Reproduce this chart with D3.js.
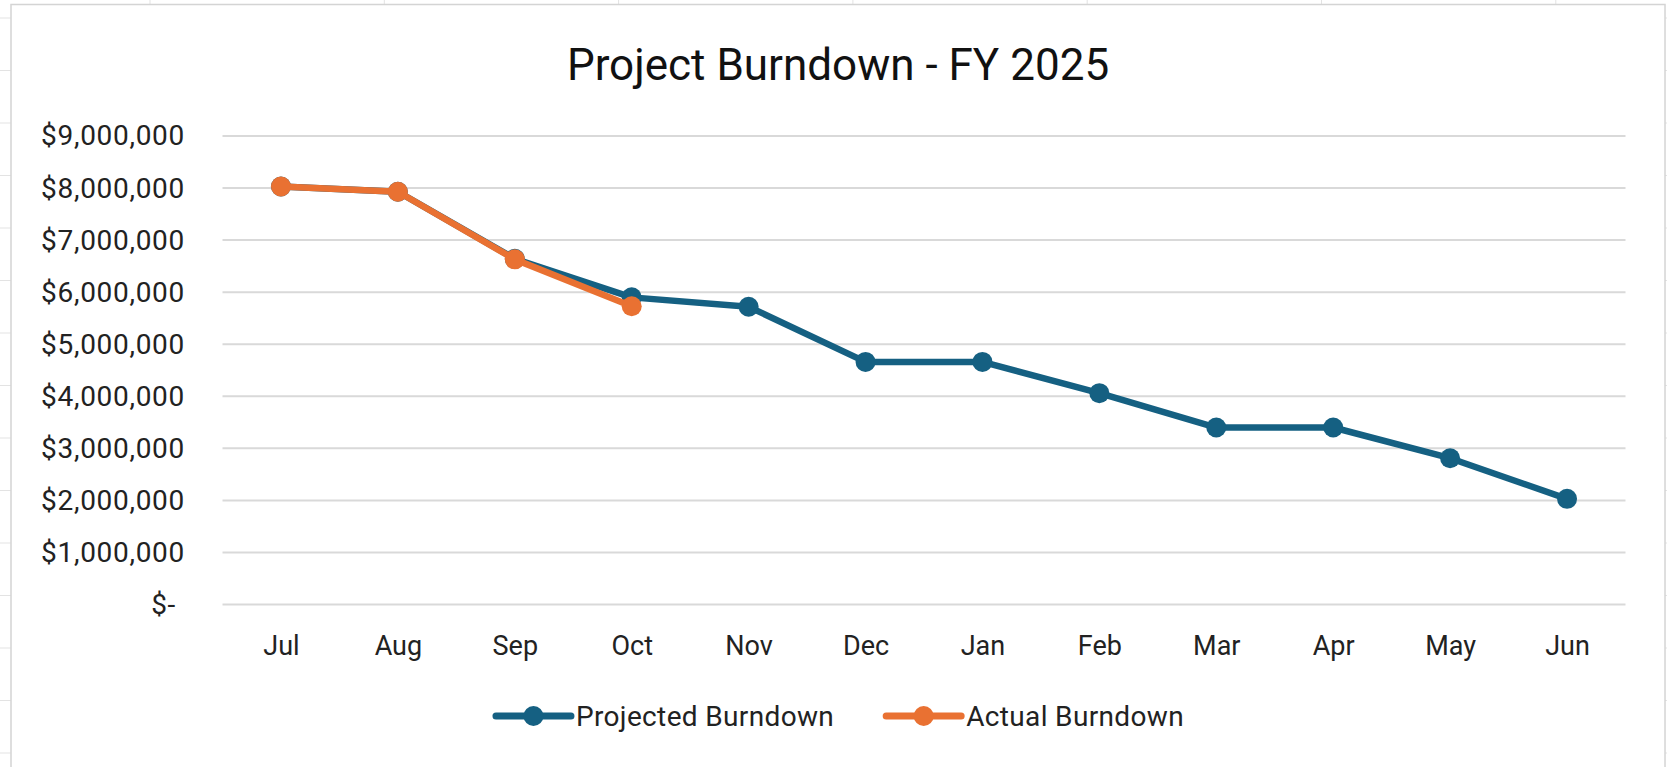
<!DOCTYPE html>
<html>
<head>
<meta charset="utf-8">
<script src="https://cdn.jsdelivr.net/npm/d3@7"></script>
<style>
  body { margin: 0; background: #fff; }
  svg text { font-family: Roboto, "Noto Sans", sans-serif; }
</style>
</head>
<body>
<div id="chart"></div>
<script>

var months = ['Jul','Aug','Sep','Oct','Nov','Dec','Jan','Feb','Mar','Apr','May','Jun'];
var projected = [8030000, 7930000, 6640000, 5900000, 5720000, 4660000, 4660000, 4060000, 3400000, 3400000, 2810000, 2030000];
var actual = [8030000, 7930000, 6630000, 5730000];
var yTicks = [0, 1000000, 2000000, 3000000, 4000000, 5000000, 6000000, 7000000, 8000000, 9000000];
var seriesNames = ['Projected Burndown', 'Actual Burndown'];

var W = 1667, H = 767;
var blue = '#156082', orange = '#E97132';

var svg = d3.select('#chart').append('svg')
    .attr('width', W)
    .attr('height', H);

// spreadsheet cell lines behind the chart
var colLines = d3.range(0, 8).map(function(k){ return 150 + 234.3*k; });
var rowLines = d3.range(0, 15).map(function(k){ return 18 + 52.5*k; });
svg.append('g').selectAll('line').data(colLines).enter().append('line')
    .attr('x1', function(d){ return d; }).attr('x2', function(d){ return d; })
    .attr('y1', 0).attr('y2', H)
    .attr('stroke', '#e3e3e3').attr('stroke-width', 1);
svg.append('g').selectAll('line').data(rowLines).enter().append('line')
    .attr('x1', 0).attr('x2', W)
    .attr('y1', function(d){ return d; }).attr('y2', function(d){ return d; })
    .attr('stroke', '#e3e3e3').attr('stroke-width', 1);

// chart area
svg.append('rect')
    .attr('x', 11).attr('y', 4.5)
    .attr('width', 1654).attr('height', H + 20)
    .attr('fill', '#fff')
    .attr('stroke', '#d4d4d4')
    .attr('stroke-width', 1.5);

var x = d3.scalePoint()
    .domain(months)
    .range([222.5, 1625.5])
    .padding(0.5);

var y = d3.scaleLinear()
    .domain([0, 9000000])
    .range([604.5, 136]);

var fmt = d3.format('$,.0f');

// gridlines
svg.append('g').selectAll('line').data(yTicks).enter().append('line')
    .attr('x1', 222.5).attr('x2', 1625.5)
    .attr('y1', function(d){ return y(d); })
    .attr('y2', function(d){ return y(d); })
    .attr('stroke', '#d9d9d9')
    .attr('stroke-width', 2);

// y axis labels
var yAxis = d3.axisLeft(y)
    .tickValues(yTicks)
    .tickSize(0)
    .tickPadding(0)
    .tickFormat(function(d){ return d === 0 ? '$-' : fmt(d); });

var gy = svg.append('g')
    .attr('transform', 'translate(185,0)')
    .call(yAxis);
gy.select('.domain').remove();
gy.selectAll('text')
    .attr('font-size', 28)
    .attr('letter-spacing', 0.7)
    .attr('fill', '#222')
    .attr('dx', function(d){ return d === 0 ? -9 : 0; });

// x axis labels
var xAxis = d3.axisBottom(x).tickSize(0).tickPadding(0);
var gx = svg.append('g')
    .attr('transform', 'translate(0,635.5)')
    .call(xAxis);
gx.select('.domain').remove();
gx.selectAll('text')
    .attr('font-size', 27)
    .attr('fill', '#222');

// title
svg.append('text')
    .attr('x', 838).attr('y', 80)
    .attr('text-anchor', 'middle')
    .attr('font-size', 44)
    .attr('fill', '#111')
    .text('Project Burndown - FY 2025');

var line = d3.line()
    .x(function(d, i){ return x(months[i]); })
    .y(function(d){ return y(d); });

function drawSeries(data, color){
    var g = svg.append('g');
    g.append('path')
        .datum(data)
        .attr('d', line)
        .attr('fill', 'none')
        .attr('stroke', color)
        .attr('stroke-width', 6.5)
        .attr('stroke-linejoin', 'round');
    g.selectAll('circle').data(data).enter().append('circle')
        .attr('cx', function(d, i){ return x(months[i]); })
        .attr('cy', function(d){ return y(d); })
        .attr('r', 10)
        .attr('fill', color);
}

drawSeries(projected, blue);
drawSeries(actual, orange);

// legend
var legendColors = [blue, orange];
var legend = svg.append('g');
var lx = 0;
seriesNames.forEach(function(name, i){
    var item = legend.append('g').attr('transform', 'translate(' + lx + ',0)');
    item.append('line')
        .attr('x1', 0).attr('x2', 75)
        .attr('y1', 0).attr('y2', 0)
        .attr('stroke', legendColors[i])
        .attr('stroke-width', 7)
        .attr('stroke-linecap', 'round');
    item.append('circle')
        .attr('cx', 37.5).attr('cy', 0).attr('r', 10)
        .attr('fill', legendColors[i]);
    var t = item.append('text')
        .attr('x', 80).attr('y', 10)
        .attr('font-size', 28)
        .attr('letter-spacing', 0.35)
        .attr('fill', '#222')
        .text(name);
    lx += 80 + t.node().getComputedTextLength() + 52;
});
var legendW = lx - 52;
legend.attr('transform', 'translate(' + (840 - legendW/2) + ',716)');

</script>
</body>
</html>
